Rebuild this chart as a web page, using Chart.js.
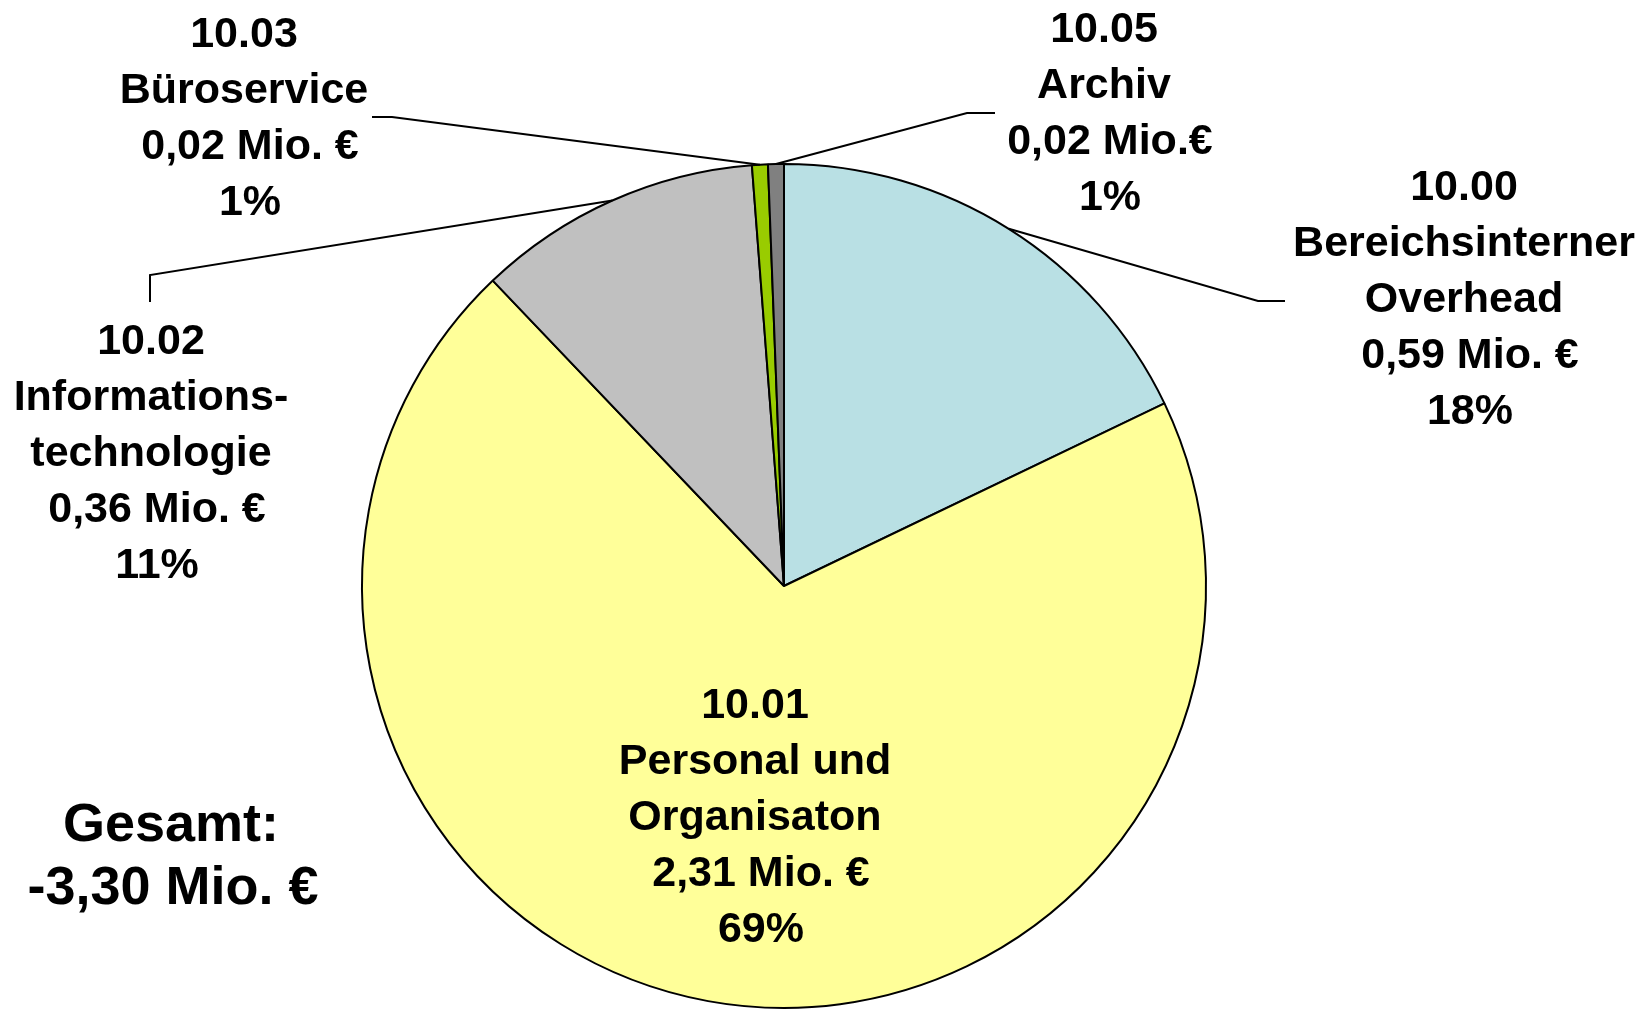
<!DOCTYPE html>
<html lang="de">
<head>
    <meta charset="UTF-8">
    <title>Kostenverteilung Bereich 10</title>
    <script src="https://cdn.jsdelivr.net/npm/chart.js"></script>
    <style>
        html, body { margin: 0; padding: 0; overflow: hidden; background: #fff; }
        #pie { position: absolute; left: 0; top: 0; }
    </style>
</head>
<body>
    <canvas id="pie" width="1643" height="1020"></canvas>

    <script>
        // Daten aus dem Diagramm
        const codes = ['10.00', '10.01', '10.02', '10.03', '10.05'];
        const names = [
            ['Bereichsinterner', 'Overhead'],
            ['Personal und', 'Organisaton'],
            ['Informations-', 'technologie'],
            ['Büroservice'],
            ['Archiv']
        ];
        const values = [0.59, 2.31, 0.36, 0.02, 0.02];
        const percentLabels = ['18%', '69%', '11%', '1%', '1%'];
        const unitLabels = [' Mio. €', ' Mio. €', ' Mio. €', ' Mio. €', ' Mio.€'];
        const totalTitle = 'Gesamt:';

        const sliceColors = ['#B9E0E4', '#FFFF99', '#C0C0C0', '#99CC00', '#808080'];

        // Lage der Beschriftungen und Knickpunkte der Führungslinien
        const labelLayout = [
            { x: 1464, y: 188, leader: [[1258, 301], [1285, 301]] },
            { x: 755, y: 706, leader: null },
            { x: 151, y: 342, leader: [[150, 275], [150, 302]] },
            { x: 244, y: 35, leader: [[392, 117], [372, 117]] },
            { x: 1104, y: 30, leader: [[967, 113], [995, 113]] }
        ];
        const lineHeight = 56;
        const labelFont = 'bold 43px "Liberation Sans", Arial, sans-serif';
        const totalFont = 'bold 54px "Liberation Sans", Arial, sans-serif';

        function fmt(v) {
            return v.toFixed(2).replace('.', ',');
        }

        const labelPlugin = {
            id: 'sliceLabels',
            afterDraw(chart) {
                const ctx = chart.ctx;
                const arcs = chart.getDatasetMeta(0).data;
                ctx.save();

                // Führungslinien
                ctx.strokeStyle = '#000';
                ctx.lineWidth = 2;
                arcs.forEach((arc, i) => {
                    const lay = labelLayout[i];
                    if (!lay.leader) return;
                    const mid = (arc.startAngle + arc.endAngle) / 2;
                    const sx = arc.x + Math.cos(mid) * arc.outerRadius;
                    const sy = arc.y + Math.sin(mid) * arc.outerRadius;
                    ctx.beginPath();
                    ctx.moveTo(sx, sy);
                    lay.leader.forEach(p => ctx.lineTo(p[0], p[1]));
                    ctx.stroke();
                });

                // Texte
                ctx.fillStyle = '#000';
                ctx.textAlign = 'center';
                ctx.textBaseline = 'middle';
                ctx.font = labelFont;
                codes.forEach((code, i) => {
                    const lay = labelLayout[i];
                    const lines = [code, ...names[i], ' ' + fmt(values[i]) + unitLabels[i], ' ' + percentLabels[i]];
                    lines.forEach((t, k) => ctx.fillText(t, lay.x, lay.y + k * lineHeight));
                });

                // Gesamtsumme
                const total = values.reduce((a, b) => a + b, 0);
                ctx.font = totalFont;
                ctx.fillText(totalTitle, 171, 826);
                ctx.fillText('-' + fmt(total) + ' Mio. €', 173, 889);

                ctx.restore();
            }
        };

        new Chart(document.getElementById('pie').getContext('2d'), {
            type: 'pie',
            data: {
                labels: codes,
                datasets: [{
                    data: values,
                    backgroundColor: sliceColors,
                    borderColor: '#000',
                    borderWidth: 2
                }]
            },
            options: {
                responsive: false,
                animation: false,
                layout: {
                    padding: { left: 361, right: 436, top: 163, bottom: 11 }
                },
                plugins: {
                    legend: { display: false },
                    tooltip: { enabled: false }
                }
            },
            plugins: [labelPlugin]
        });
    </script>
</body>
</html>
